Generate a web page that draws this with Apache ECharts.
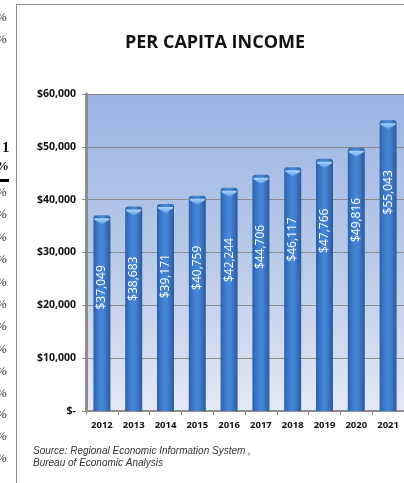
<!DOCTYPE html>
<html>
<head>
<meta charset="utf-8">
<script src="https://cdn.jsdelivr.net/npm/echarts@6/dist/echarts.min.js"></script>
<style>
  html, body { margin: 0; padding: 0; background: #fff; }
  #chart { width: 404px; height: 483px; }
</style>
</head>
<body>
<div id="chart"></div>
<script>
const years = ['2012', '2013', '2014', '2015', '2016', '2017', '2018', '2019', '2020', '2021']
const income = [37049, 38683, 39171, 40759, 42244, 44706, 46117, 47766, 49816, 55043]
const yTickLabels = ['$-', '$10,000', '$20,000', '$30,000', '$40,000', '$50,000', '$60,000']
const sourceLines = ['Source: Regional Economic Information System ,', 'Bureau of Economic Analysis']
// cut-off cells of the neighbouring table on the left of the page
const edgePercentRows = [18, 40, 193, 215, 238, 260, 283, 305, 327, 350, 372, 394, 415, 437, 459]

const money = v => '$' + v.toLocaleString('en-US')

const chart = echarts.init(document.getElementById('chart'), null, { renderer: 'canvas' })

const edgeTexts = edgePercentRows.map(y => ({
  type: 'text', left: -4, top: y - 7,
  style: { text: '%', font: '13px "Liberation Serif"', fill: '#333' }
}))

chart.setOption({
  animation: false,
  title: {
    text: 'PER CAPITA INCOME',
    left: 210, top: 29, textAlign: 'center',
    textStyle: { fontFamily: 'Open Sans', fontWeight: 'bold', fontSize: 18, color: '#111' }
  },
  grid: {
    left: 86, right: -1, top: 94, bottom: 72,
    show: true, borderWidth: 0,
    backgroundColor: new echarts.graphic.LinearGradient(0, 0, 0, 1, [
      { offset: 0, color: '#9bb5e3' },
      { offset: 0.55, color: '#bccbe9' },
      { offset: 1, color: '#e4e9f4' }
    ])
  },
  xAxis: {
    type: 'category',
    data: years,
    axisLine: { lineStyle: { color: '#8e8e8e', width: 2 } },
    axisTick: { show: true, length: 4, lineStyle: { color: '#8e8e8e' } },
    axisLabel: { fontFamily: 'Open Sans', fontWeight: 'bold', fontSize: 9.5, color: '#111', margin: 9 }
  },
  yAxis: {
    type: 'value',
    min: 0, max: 60000, interval: 10000,
    axisLine: { show: true, lineStyle: { color: '#8e8e8e', width: 3 } },
    axisTick: { show: true, length: 4, lineStyle: { color: '#8e8e8e' } },
    splitLine: { lineStyle: { color: '#8a8a8a', width: 1 } },
    axisLabel: {
      fontFamily: 'Open Sans', fontWeight: 'bold', fontSize: 10.5, color: '#111', margin: 10,
      formatter: v => yTickLabels[Math.round(v / 10000)]
    }
  },
  series: [
    {
      type: 'bar',
      data: income,
      barWidth: 17,
      barGap: '-100%',
      itemStyle: {
        borderRadius: [3, 3, 0, 0],
        color: new echarts.graphic.LinearGradient(0, 0, 1, 0, [
          { offset: 0, color: '#2c5fa8' },
          { offset: 0.3, color: '#3f7fd0' },
          { offset: 0.55, color: '#4788d8' },
          { offset: 1, color: '#2a5a9f' }
        ])
      },
      label: {
        show: true,
        position: ['50%', 50],
        rotate: 90,
        align: 'right',
        verticalAlign: 'middle',
        color: '#fff',
        fontFamily: 'Open Sans',
        fontSize: 12,
        formatter: p => money(p.value)
      },
      z: 2
    },
    {
      type: 'pictorialBar',
      data: income,
      barWidth: 17,
      barGap: '-100%',
      symbol: 'path://M0,0 L20,0 L20,2 L10,8 L0,2 Z',
      symbolSize: [15, 6],
      symbolPosition: 'end',
      symbolOffset: [0, '50%'],
      itemStyle: {
        color: new echarts.graphic.LinearGradient(0, 0, 0, 1, [
          { offset: 0, color: '#a9d6fb' },
          { offset: 1, color: '#5c9de4' }
        ])
      },
      z: 3
    }
  ],
  graphic: [
    { type: 'line', shape: { x1: 16.5, y1: 4, x2: 16.5, y2: 483 }, style: { stroke: '#8c8c8c', lineWidth: 1 } },
    { type: 'line', shape: { x1: 16, y1: 4.5, x2: 404, y2: 4.5 }, style: { stroke: '#8c8c8c', lineWidth: 1 } },
    { type: 'text', left: 2, top: 141, style: { text: '1', font: 'bold 15px "Liberation Serif"', fill: '#111' } },
    { type: 'text', left: -4, top: 160, style: { text: '%', font: 'bold 13px "Liberation Serif"', fill: '#111' } },
    { type: 'rect', shape: { x: 0, y: 179, width: 9, height: 3 }, style: { fill: '#000' } },
    ...edgeTexts,
    ...sourceLines.map((t, i) => ({
      type: 'text', left: 33, top: 446 + i * 12,
      style: { text: t, font: 'italic 10px "Liberation Sans"', fill: '#333' }
    }))
  ]
})
</script>
</body>
</html>
